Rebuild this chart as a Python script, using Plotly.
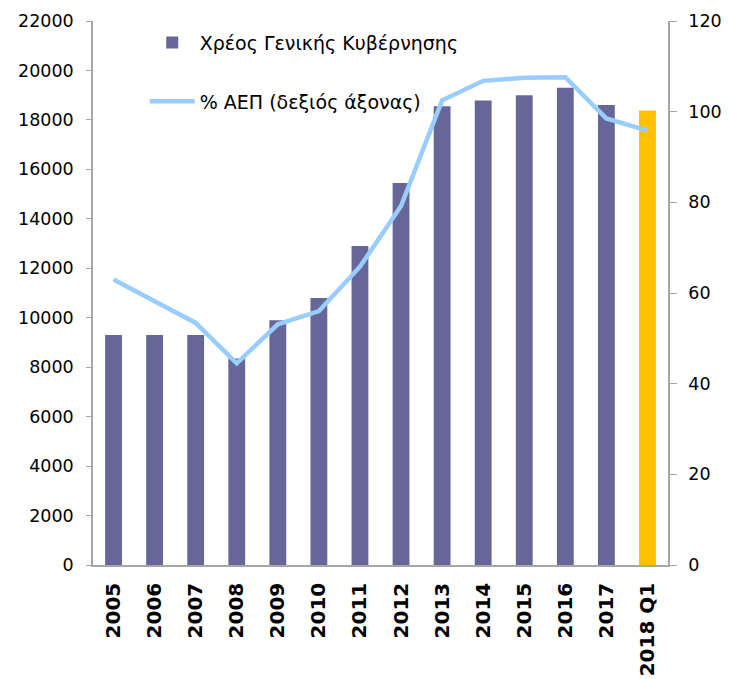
import plotly.graph_objects as go

categories = ["2005", "2006", "2007", "2008", "2009", "2010", "2011", "2012",
              "2013", "2014", "2015", "2016", "2017", "2018 Q1"]
debt = [9300, 9300, 9300, 8350, 9900, 10800, 12900, 15450,
        18550, 18780, 19000, 19300, 18600, 18380]
pct_gdp = [63.0, 58.2, 53.4, 44.5, 53.1, 56.0, 65.8, 79.2,
           102.5, 106.8, 107.5, 107.6, 98.5, 95.8]

bar_colors = ["#666699"] * (len(categories) - 1) + ["#FFC000"]

fig = go.Figure()
fig.add_trace(go.Bar(
    x=categories, y=debt, name="Χρέος Γενικής Κυβέρνησης",
    marker=dict(color=bar_colors, line=dict(width=0)),
    legendgroup="a",
))
fig.add_trace(go.Scatter(
    x=categories, y=pct_gdp, name="% ΑΕΠ (δεξιός άξονας)",
    mode="lines", line=dict(color="#99CCFF", width=4.5),
    yaxis="y2", legendgroup="b",
))

axis_col = "#A6A6A6"
fig.update_layout(
    width=729, height=679,
    margin=dict(l=85, r=69, t=13, b=122),
    paper_bgcolor="white", plot_bgcolor="white",
    font=dict(family="DejaVu Sans", size=17, color="#000000"),
    bargap=0.59,
    showlegend=True,
    legend=dict(x=0.09, y=0.995, xanchor="left", yanchor="top",
                bgcolor="rgba(0,0,0,0)", tracegroupgap=31,
                itemwidth=45,
                font=dict(family="DejaVu Sans", size=19)),
    xaxis=dict(
        type="category", tickangle=-90, showgrid=False, automargin=False,
        showline=True, linecolor=axis_col, linewidth=1.5,
        ticks="", ticklabelstandoff=8,
        tickfont=dict(family="DejaVu Sans", size=20, weight="bold"),
    ),
    yaxis=dict(
        range=[0, 22000], dtick=2000, tickformat="d", automargin=False,
        showgrid=False, zeroline=False,
        showline=True, linecolor=axis_col, linewidth=1.5,
        ticks="outside", ticklen=5, tickcolor=axis_col,
        ticklabelstandoff=9,
        tickfont=dict(family="DejaVu Sans", size=17.5),
    ),
    yaxis2=dict(
        range=[0, 120], dtick=20, overlaying="y", side="right", automargin=False,
        showgrid=False, zeroline=False,
        showline=True, linecolor=axis_col, linewidth=1.5,
        ticks="outside", ticklen=7, tickcolor=axis_col,
        ticklabelstandoff=8,
        tickfont=dict(family="DejaVu Sans", size=17.5),
    ),
)

fig.write_html("out.html")
